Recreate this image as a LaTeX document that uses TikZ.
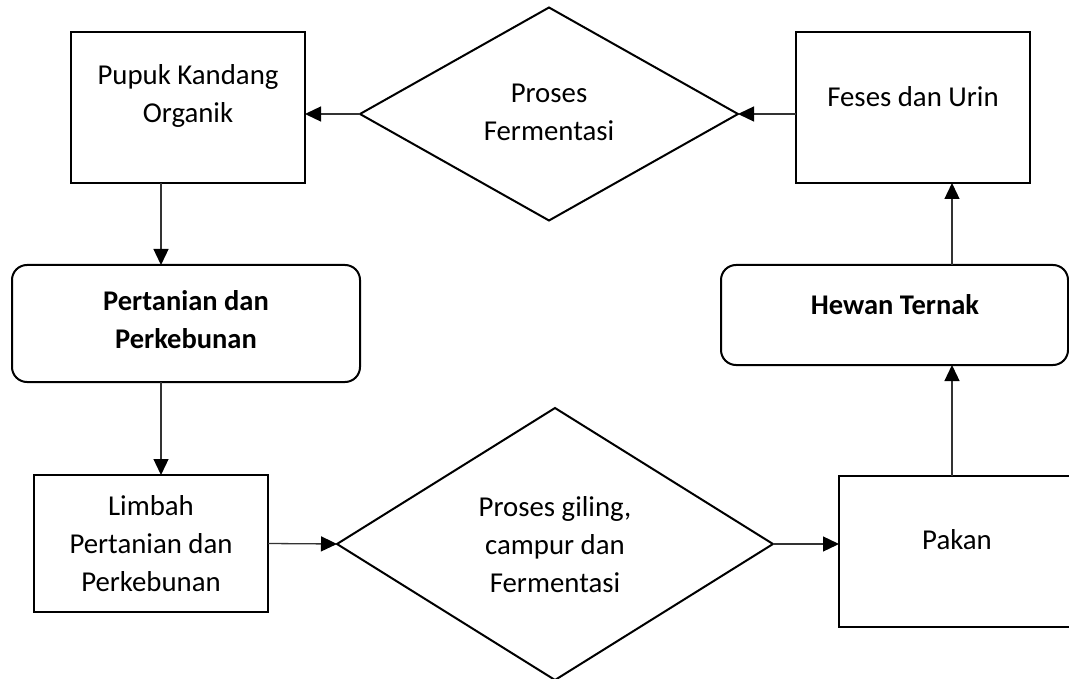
\documentclass[tikz,border=0pt]{standalone}
\usepackage{fontspec}
\setmainfont{Carlito}
\usetikzlibrary{shapes.geometric,arrows.meta,calc}
\begin{document}
\begin{tikzpicture}[x=1pt,y=-1pt,
  boxshape/.style={draw,line width=2pt,rectangle,inner sep=0pt,outer sep=0pt},
  roundshape/.style={boxshape,rounded corners=15pt},
  dshape/.style={draw,line width=2pt,diamond,inner sep=0pt,outer sep=0pt},
  txt/.style={align=center,inner sep=0pt,font=\fontsize{28.8}{38}\selectfont},
  btxt/.style={txt,font=\fontsize{28.5}{38}\selectfont\bfseries},
  arr/.style={line width=1.3pt,draw=black!80,-{Triangle[length=16pt,width=15pt,color=black]}}]
\useasboundingbox (0,0) rectangle (1069,679);
\clip (0,0) rectangle (1069,679);
% shapes
\node[boxshape,minimum width=234pt,minimum height=151pt] (pupuk) at (188,107.5) {};
\node[dshape,minimum width=378pt,minimum height=213pt] (d1) at (549,114) {};
\node[boxshape,minimum width=234pt,minimum height=151pt] (feses) at (913,107.5) {};
\node[roundshape,minimum width=348pt,minimum height=117pt] (pert) at (186,323.5) {};
\node[roundshape,minimum width=347pt,minimum height=100pt] (hewan) at (894.5,315) {};
\node[boxshape,minimum width=234pt,minimum height=137pt] (limbah) at (151,543.5) {};
\node[dshape,minimum width=436pt,minimum height=272pt] (d2) at (555,544) {};
\node[boxshape,minimum width=260pt,minimum height=151pt] (pakan) at (969,551.5) {};
% texts
\node[txt] (tpupuk) at (188,96) {Pupuk Kandang\\Organik};
\node[txt] (td1) at (549,112) {Proses\\Fermentasi};
\node[txt] (tfeses) at (913,97) {Feses dan Urin};
\node[btxt] (tpert) at (186,320) {Pertanian dan\\Perkebunan};
\node[btxt] (thewan) at (895,305) {Hewan Ternak};
\node[txt] (tlimbah) at (151,544) {Limbah\\Pertanian dan\\Perkebunan};
\node[txt] (td2) at (555,545) {Proses giling,\\campur dan\\Fermentasi};
\node[txt] (tpakan) at (957,540) {Pakan};
% connectors
\coordinate (a1) at (161,0);
\coordinate (a2) at (952,0);
\draw[arr] (d1.west) -- (pupuk.east |- d1.west);
\draw[arr] (feses.west |- d1.east) -- (d1.east);
\draw[arr] (a1 |- pupuk.south) -- (a1 |- pert.north);
\draw[arr] (a1 |- pert.south) -- (a1 |- limbah.north);
\draw[arr] (limbah.east) -- (d2.west);
\draw[arr] (d2.east) -- (pakan.west |- d2.east);
\draw[arr] (a2 |- pakan.north) -- (a2 |- hewan.south);
\draw[arr] (a2 |- hewan.north) -- (a2 |- feses.south);
\end{tikzpicture}
\end{document}
